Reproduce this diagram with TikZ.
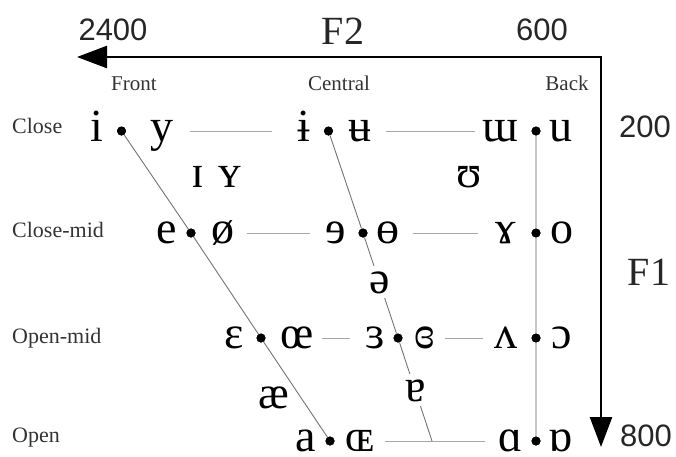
\documentclass[tikz,border=0pt]{standalone}
\usepackage{fontspec}
\setmainfont{Liberation Serif}
\newfontfamily\axisfont{Liberation Sans}
\usetikzlibrary{arrows.meta}
\begin{document}
\begin{tikzpicture}[x=1pt,y=-1pt,
  vowel/.style={anchor=base,inner sep=0pt,font=\fontsize{46}{46}\selectfont},
  gapvowel/.style={vowel,fill=white,inner sep=5pt},
  vdot/.style={circle,fill=black,inner sep=0pt,minimum size=9pt},
  rowlab/.style={anchor=base west,inner sep=0pt,font=\fontsize{22}{22}\selectfont,text=black!80},
  collab/.style={anchor=base,inner sep=0pt,font=\fontsize{21}{21}\selectfont,text=black!80},
  axnum/.style={anchor=base,inner sep=0pt,font=\axisfont\fontsize{31}{31}\selectfont,text=black!85},
  axname/.style={anchor=base,inner sep=0pt,font=\fontsize{40}{40}\selectfont,text=black!85},
  axisline/.style={line width=2.6pt,{Triangle[length=30pt,width=22pt]}-{Triangle[length=30pt,width=22pt]}},
  hline/.style={draw=black!35,line width=0.9pt},
  dline/.style={draw=black!55,line width=0.9pt},
  bline/.style={draw=black!22,line width=1.6pt}
]
\useasboundingbox (0,0) rectangle (676,456);

% axes
\coordinate (o) at (601,57);
\coordinate (xend) at (77,57);
\coordinate (yend) at (601,447);
\draw[axisline] (xend) -- (o) -- (yend);
\node[axnum] (n2400) at (113,40) {2400};
\node[axname] (F2) at (343,44) {F2};
\node[axnum] (n600) at (542,40) {600};
\node[axnum] (n200) at (645,137) {200};
\node[axname] (F1) at (649,285) {F1};
\node[axnum] (n800) at (646,446) {800};

% column and row labels
\node[collab] (front) at (134,90) {Front};
\node[collab] (central) at (339,90) {Central};
\node[collab] (back) at (567,90) {Back};
\node[rowlab] (close) at (12,133) {Close};
\node[rowlab] (closemid) at (12,237) {Close-mid};
\node[rowlab] (openmid) at (12,343) {Open-mid};
\node[rowlab] (open) at (12,442) {Open};

% dots
\node[vdot] (d11) at (121.5,131) {};
\node[vdot] (d12) at (328.5,131) {};
\node[vdot] (d13) at (536,131) {};
\node[vdot] (d21) at (191,233) {};
\node[vdot] (d22) at (363,233) {};
\node[vdot] (d23) at (536,233) {};
\node[vdot] (d31) at (261,338) {};
\node[vdot] (d32) at (398,338) {};
\node[vdot] (d33) at (536,338) {};
\node[vdot] (d41) at (330,441) {};
\node[vdot] (d43) at (536,441) {};
\coordinate (cb) at (432,441);

% grid lines
\draw[bline] (d13) -- (d23) -- (d33) -- (d43);
\draw[dline] (d11) -- (d21) -- (d31) -- (d41);
\draw[dline] (d12) -- (d22) -- (d32) -- (cb);
\draw[hline,shorten <=63.5pt,shorten >=51.5pt] (d11) -- (d12);
\draw[hline,shorten <=52.5pt,shorten >=56pt] (d12) -- (d13);
\draw[hline,shorten <=51pt,shorten >=48pt] (d21) -- (d22);
\draw[hline,shorten <=45pt,shorten >=53pt] (d22) -- (d23);
\draw[hline,shorten <=56pt,shorten >=43pt] (d31) -- (d32);
\draw[hline,shorten <=42pt,shorten >=48pt] (d32) -- (d33);
\draw[hline,shorten <=50pt,shorten >=46pt] (d41) -- (d43);
% redraw dots on top
\foreach \d in {d11,d12,d13,d21,d22,d23,d31,d32,d33,d41,d43}
  \fill (\d) circle (4.5pt);

% vowels: close
\node[vowel] (vi) at (97,141) {i};
\node[vowel] (vy) at (162,141) {y};
\node[vowel] (vbari) at (304,141) {ɨ};
\node[vowel] (vbaru) at (360,141) {ʉ};
\node[vowel] (vuu) at (500,141) {ɯ};
\node[vowel] (vu) at (561,141) {u};
% near-close
\node[vowel] (vsi) at (198,187) {ɪ};
\node[vowel] (vsy) at (230,187) {ʏ};
\node[vowel] (vsu) at (469,187) {ʊ};
% close-mid
\node[vowel] (ve) at (167,243) {e};
\node[vowel] (voe) at (223,243) {ø};
\node[vowel] (vre) at (336,243) {ɘ};
\node[vowel] (vbaro) at (388,243) {ɵ};
\node[vowel] (vram) at (506,243) {ɤ};
\node[vowel] (vo) at (562,243) {o};
% mid
\node[gapvowel] (vschwa) at (380,293) {ə};
% open-mid
\node[vowel] (veps) at (234,348) {ɛ};
\node[vowel] (voel) at (297,348) {œ};
\node[vowel] (vrev) at (375,348) {ɜ};
\node[vowel] (vcreps) at (425,348) {ɞ};
\node[vowel] (vturnv) at (506,348) {ʌ};
\node[vowel] (vopeno) at (562,348) {ɔ};
% near-open
\node[vowel] (vae) at (274,408) {æ};
\node[gapvowel] (vturna) at (416,401) {ɐ};
% open
\node[vowel] (va) at (306,451) {a};
\node[vowel] (voeopen) at (360,451) {ɶ};
\node[vowel] (valpha) at (511,451) {ɑ};
\node[vowel] (vturnalpha) at (561,451) {ɒ};
\end{tikzpicture}
\end{document}
